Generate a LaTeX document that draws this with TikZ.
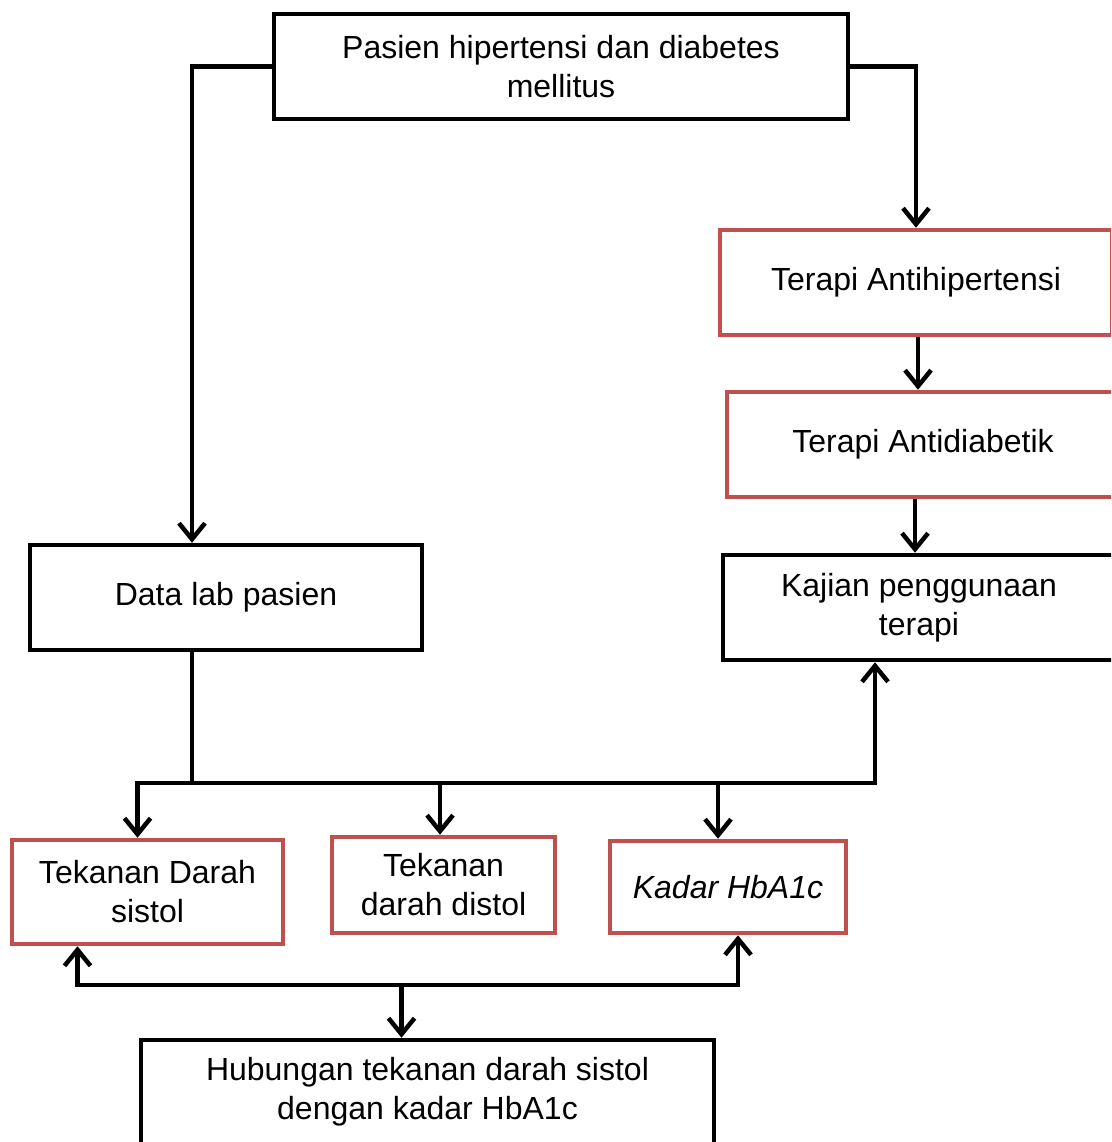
\documentclass[tikz,border=0pt]{standalone}
\usepackage{fontspec}
\setmainfont{Liberation Sans}
\usetikzlibrary{arrows.meta}
\definecolor{boxred}{HTML}{C0504D}
\begin{document}
\begin{tikzpicture}[x=1pt,y=-1pt,
  box/.style={draw=black, line width=4.5pt, fill=white, align=center,
    font=\fontsize{32}{39}\selectfont, inner sep=0pt},
  redbox/.style={box, draw=boxred},
  tipk/.tip={Straight Barb[length=16pt,width=26pt,line width=4.5pt]},
  arr/.style={line width=4.5pt, -{tipk}},
  dblarr/.style={line width=4.5pt, {tipk}-{tipk}},
  ln/.style={line width=4.5pt}]
\clip (0,0) rectangle (1111,1142);
\fill[white] (0,0) rectangle (1111,1142);

\node[box, minimum width=574pt, minimum height=105pt] (top) at (561,66.5) {Pasien hipertensi dan diabetes\\mellitus};
\node[redbox, minimum width=392pt, minimum height=105pt] (anti) at (916,282.5) {Terapi Antihipertensi};
\node[redbox, minimum width=392pt, minimum height=105pt] (diab) at (923,444.5) {Terapi Antidiabetik};
\node[box, minimum width=392pt, minimum height=105pt] (kajian) at (919,607.5) {Kajian penggunaan\\terapi};
\node[box, minimum width=392pt, minimum height=105pt] (data) at (226,597.5) {Data lab pasien};
\node[redbox, minimum width=271pt, minimum height=104pt] (sistol) at (147.5,892) {Tekanan Darah\\sistol};
\node[redbox, minimum width=223pt, minimum height=96pt] (distol) at (443.5,885) {Tekanan\\darah distol};
\node[redbox, minimum width=236pt, minimum height=92pt] (hba) at (728,887) {\textit{Kadar HbA1c}};
\node[box, minimum width=573pt, minimum height=104pt] (bot) at (427.5,1092) {Hubungan tekanan darah sistol\\dengan kadar HbA1c};

\coordinate (b1) at (0,783);
\coordinate (b2) at (0,985);

\draw[arr] (top.west) -| ([xshift=-34pt]data.north);
\draw[arr] (top.east) -| (anti.north);
\draw[arr] ([xshift=2pt]anti.south) -- ([xshift=2pt]anti.south |- diab.north);
\draw[arr] ([xshift=-4pt]kajian.north |- diab.south) -- ([xshift=-4pt]kajian.north);

\draw[ln] ([xshift=-34pt]data.south) -- ([xshift=-34pt]data.south |- b1);
\draw[dblarr] ([xshift=-10pt]sistol.north) -- ([xshift=-10pt]sistol.north |- b1)
  -- ([xshift=-44pt]kajian.south |- b1) -- ([xshift=-44pt]kajian.south);
\draw[arr] ([xshift=-3.5pt]distol.north |- b1) -- ([xshift=-3.5pt]distol.north);
\draw[arr] ([xshift=-10pt]hba.north |- b1) -- ([xshift=-10pt]hba.north);

\draw[dblarr] ([xshift=-70pt]sistol.south) -- ([xshift=-70pt]sistol.south |- b2)
  -- ([xshift=10pt]hba.south |- b2) -- ([xshift=10pt]hba.south);
\draw[arr] ([xshift=-26pt]bot.north |- b2) -- ([xshift=-26pt]bot.north);
\end{tikzpicture}
\end{document}
